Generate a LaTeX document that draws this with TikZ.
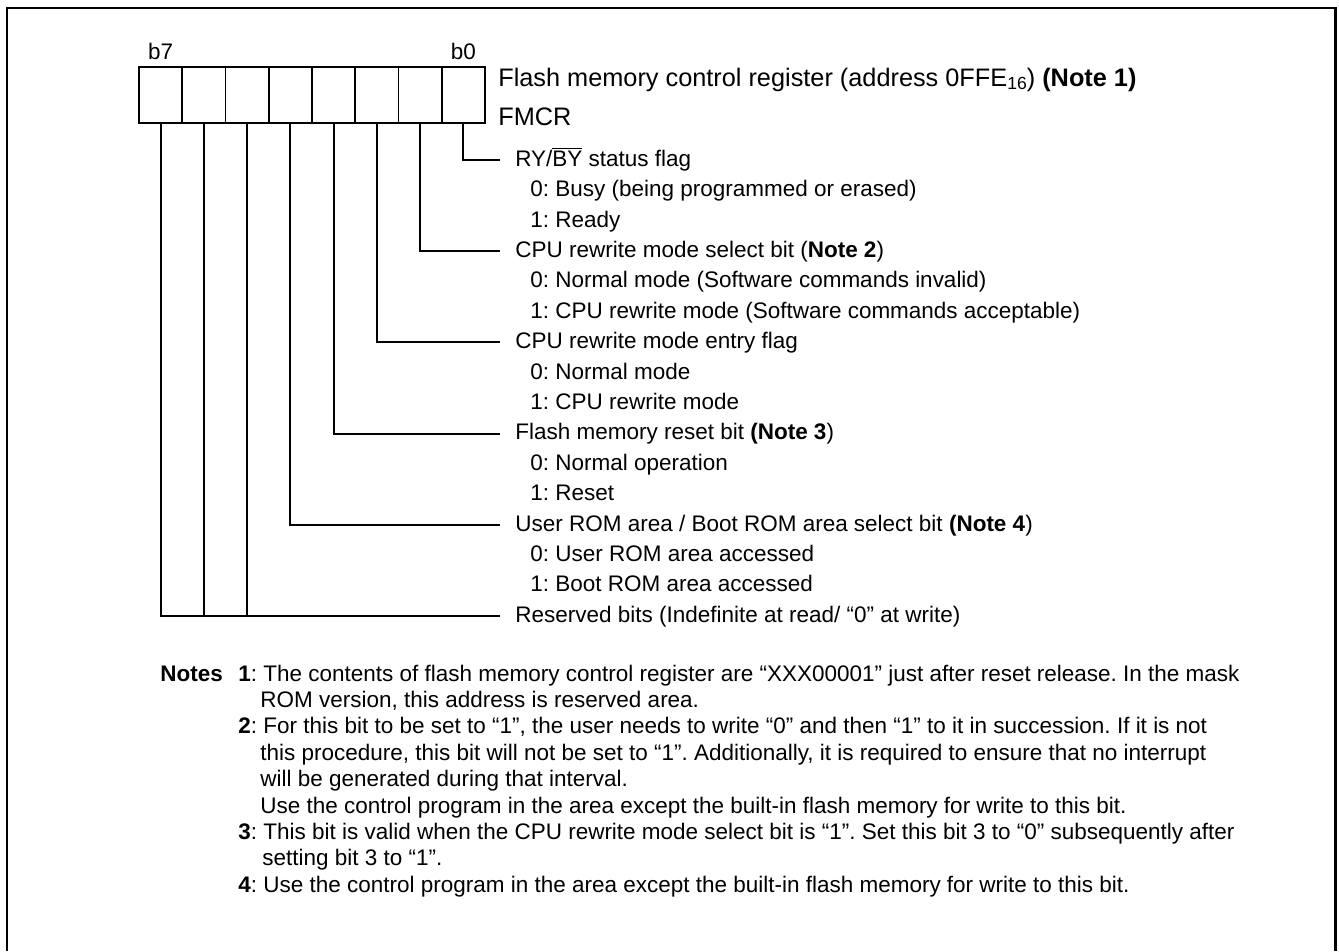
\documentclass[tikz,border=0pt]{standalone}
\usepackage{fontspec}
\setmainfont{Liberation Sans}
\usetikzlibrary{positioning}
\frenchspacing
\tikzset{
  frameline/.style={line width=1.7pt},
  regcell/.style={
    draw,
    line width=1.1pt,
    minimum width=0.865cm,
    minimum height=1.12cm,
    inner sep=0pt
  },
  leader/.style={line width=1.1pt},
  regtext/.style={anchor=west, inner sep=0pt, font=\fontsize{14.4}{17}\selectfont},
  bitname/.style={anchor=west, inner sep=0pt, text height=0.72em, text depth=0pt},
  bitval/.style={anchor=west, inner sep=0pt, text height=0.72em, text depth=0pt},
  notetext/.style={anchor=base west, inner sep=0pt}
}
\newcommand{\regsub}[1]{\raisebox{-0.25ex}{\fontsize{10}{10}\selectfont #1}}

\begin{document}
\begin{tikzpicture}[x=0.02cm, y=-0.02cm, font=\fontsize{12.8}{15}\selectfont]
  \useasboundingbox (0,0) rectangle (1339,951);
  \draw[frameline] (7,951) -- (7,8) -- (1335,8) -- (1335,951);

  % register cells, b0 on the right
  \foreach \b in {0,...,7}
    \node[regcell] (bit\b) at ({485-43.25*(\b+0.5)},95) {};
  \node[above=0pt of bit7] (lblb7) {b7};
  \node[above=0pt of bit0] (lblb0) {b0};

  \node[regtext] (regtitle) at (498,80)
    {Flash memory control register (address 0FFE\regsub{16}) \textbf{(Note 1)}};
  \node[regtext] (regname) at (498,117) {FMCR};

  % bit descriptions
  \node[bitname] (ry) at (515,160) {RY/$\overline{\mbox{BY}}$ status flag};
  \node[bitval] (ry0) at (530,190.4) {0: Busy (being programmed or erased)};
  \node[bitval] (ry1) at (530,220.8) {1: Ready};
  \node[bitname] (rwsel) at (515,251.2) {CPU rewrite mode select bit (\textbf{Note 2})};
  \node[bitval] (rwsel0) at (530,281.6) {0: Normal mode (Software commands invalid)};
  \node[bitval] (rwsel1) at (530,312) {1: CPU rewrite mode (Software commands acceptable)};
  \node[bitname] (rwent) at (515,342.4) {CPU rewrite mode entry flag};
  \node[bitval] (rwent0) at (530,372.8) {0: Normal mode};
  \node[bitval] (rwent1) at (530,403.2) {1: CPU rewrite mode};
  \node[bitname] (fmrst) at (515,433.6) {Flash memory reset bit \textbf{(Note 3})};
  \node[bitval] (fmrst0) at (530,464) {0: Normal operation};
  \node[bitval] (fmrst1) at (530,494.4) {1: Reset};
  \node[bitname] (romsel) at (515,524.8) {User ROM area / Boot ROM area select bit \textbf{(Note 4})};
  \node[bitval] (romsel0) at (530,555.2) {0: User ROM area accessed};
  \node[bitval] (romsel1) at (530,585.6) {1: Boot ROM area accessed};
  \node[bitname] (resv) at (515,616) {Reserved bits (Indefinite at read/ “0” at write)};

  % leaders
  \draw[leader] (bit0.south) |- ([xshift=-0.3cm]ry.west);
  \draw[leader] (bit1.south) |- ([xshift=-0.3cm]rwsel.west);
  \draw[leader] (bit2.south) |- ([xshift=-0.3cm]rwent.west);
  \draw[leader] (bit3.south) |- ([xshift=-0.3cm]fmrst.west);
  \draw[leader] (bit4.south) |- ([xshift=-0.3cm]romsel.west);
  \draw[leader] (bit7.south) |- ([xshift=-0.3cm]resv.west);
  \draw[leader] (bit6.south) -- (bit6.south |- resv.west);
  \draw[leader] (bit5.south) -- (bit5.south |- resv.west);

  % notes
  \node[notetext] (notes) at (160,681) {\textbf{Notes}};
  \node[notetext] (note1a) at (238,681) {\textbf{1}: The contents of flash memory control register are “XXX00001” just after reset release. In the mask};
  \node[notetext] (note1b) at (260,707.4) {ROM version, this address is reserved area.};
  \node[notetext] (note2a) at (238,733.8) {\textbf{2}: For this bit to be set to “1”, the user needs to write “0” and then “1” to it in succession. If it is not};
  \node[notetext] (note2b) at (260,760.2) {this procedure, this bit will not be set to “1”. Additionally, it is required to ensure that no interrupt};
  \node[notetext] (note2c) at (260,786.6) {will be generated during that interval.};
  \node[notetext] (note2d) at (260,813) {Use the control program in the area except the built-in flash memory for write to this bit.};
  \node[notetext] (note3a) at (238,839.4) {\textbf{3}: This bit is valid when the CPU rewrite mode select bit is “1”. Set this bit 3 to “0” subsequently after};
  \node[notetext] (note3b) at (262,865.8) {setting bit 3 to “1”.};
  \node[notetext] (note4a) at (238,892.2) {\textbf{4}: Use the control program in the area except the built-in flash memory for write to this bit.};
\end{tikzpicture}
\end{document}
